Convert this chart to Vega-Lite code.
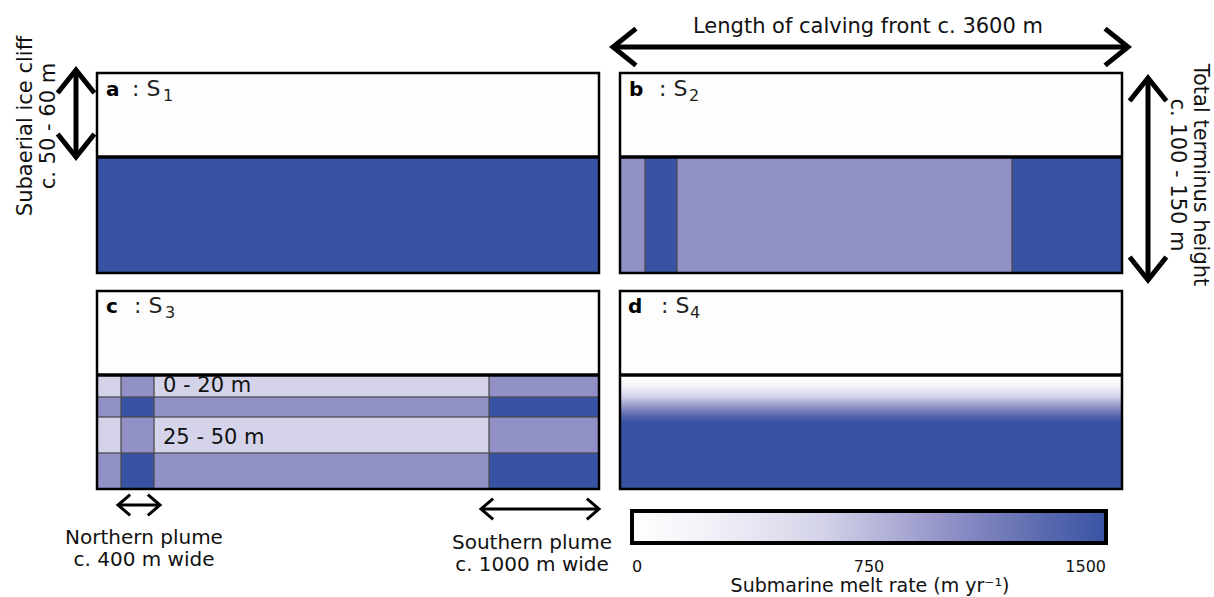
{
  "$schema": "https://vega.github.io/schema/vega-lite/v6.json",
  "width": 1214,
  "height": 597,
  "padding": 0,
  "autosize": {"type": "none"},
  "background": "white",
  "config": {"view": {"stroke": null}, "font": "DejaVu Sans", "text": {"font": "DejaVu Sans"}},
  "datasets": {
    "panels": [
      {"panel": "a", "x": 97, "x2": 599, "y": 73, "y2": 273, "waterline": 157},
      {"panel": "b", "x": 620, "x2": 1122, "y": 73, "y2": 273, "waterline": 157},
      {"panel": "c", "x": 97, "x2": 599, "y": 291, "y2": 489, "waterline": 375},
      {"panel": "d", "x": 620, "x2": 1122, "y": 291, "y2": 489, "waterline": 375}
    ],
    "melt": [
      {"panel": "a", "x": 97, "x2": 599, "y": 157, "y2": 273, "melt": 1500},
      {"panel": "b", "x": 620, "x2": 645, "y": 157, "y2": 273, "melt": 1000},
      {"panel": "b", "x": 645, "x2": 677, "y": 157, "y2": 273, "melt": 1500},
      {"panel": "b", "x": 677, "x2": 1012, "y": 157, "y2": 273, "melt": 1000},
      {"panel": "b", "x": 1012, "x2": 1122, "y": 157, "y2": 273, "melt": 1500},
      {"panel": "c", "x": 97, "x2": 121, "y": 375, "y2": 397, "melt": 600},
      {"panel": "c", "x": 121, "x2": 154, "y": 375, "y2": 397, "melt": 1000},
      {"panel": "c", "x": 154, "x2": 489, "y": 375, "y2": 397, "melt": 600},
      {"panel": "c", "x": 489, "x2": 599, "y": 375, "y2": 397, "melt": 1000},
      {"panel": "c", "x": 97, "x2": 121, "y": 397, "y2": 417, "melt": 1000},
      {"panel": "c", "x": 121, "x2": 154, "y": 397, "y2": 417, "melt": 1500},
      {"panel": "c", "x": 154, "x2": 489, "y": 397, "y2": 417, "melt": 1000},
      {"panel": "c", "x": 489, "x2": 599, "y": 397, "y2": 417, "melt": 1500},
      {"panel": "c", "x": 97, "x2": 121, "y": 417, "y2": 453, "melt": 600},
      {"panel": "c", "x": 121, "x2": 154, "y": 417, "y2": 453, "melt": 1000},
      {"panel": "c", "x": 154, "x2": 489, "y": 417, "y2": 453, "melt": 600},
      {"panel": "c", "x": 489, "x2": 599, "y": 417, "y2": 453, "melt": 1000},
      {"panel": "c", "x": 97, "x2": 121, "y": 453, "y2": 489, "melt": 1000},
      {"panel": "c", "x": 121, "x2": 154, "y": 453, "y2": 489, "melt": 1500},
      {"panel": "c", "x": 154, "x2": 489, "y": 453, "y2": 489, "melt": 1000},
      {"panel": "c", "x": 489, "x2": 599, "y": 453, "y2": 489, "melt": 1500},
      {"panel": "d", "x": 620, "x2": 1122, "y": 375, "y2": 377, "melt": 15},
      {"panel": "d", "x": 620, "x2": 1122, "y": 377, "y2": 379, "melt": 40},
      {"panel": "d", "x": 620, "x2": 1122, "y": 379, "y2": 381, "melt": 75},
      {"panel": "d", "x": 620, "x2": 1122, "y": 381, "y2": 383, "melt": 115},
      {"panel": "d", "x": 620, "x2": 1122, "y": 383, "y2": 385, "melt": 165},
      {"panel": "d", "x": 620, "x2": 1122, "y": 385, "y2": 387, "melt": 220},
      {"panel": "d", "x": 620, "x2": 1122, "y": 387, "y2": 389, "melt": 285},
      {"panel": "d", "x": 620, "x2": 1122, "y": 389, "y2": 391, "melt": 355},
      {"panel": "d", "x": 620, "x2": 1122, "y": 391, "y2": 393, "melt": 430},
      {"panel": "d", "x": 620, "x2": 1122, "y": 393, "y2": 395, "melt": 510},
      {"panel": "d", "x": 620, "x2": 1122, "y": 395, "y2": 397, "melt": 585},
      {"panel": "d", "x": 620, "x2": 1122, "y": 397, "y2": 399, "melt": 660},
      {"panel": "d", "x": 620, "x2": 1122, "y": 399, "y2": 401, "melt": 735},
      {"panel": "d", "x": 620, "x2": 1122, "y": 401, "y2": 403, "melt": 810},
      {"panel": "d", "x": 620, "x2": 1122, "y": 403, "y2": 405, "melt": 885},
      {"panel": "d", "x": 620, "x2": 1122, "y": 405, "y2": 407, "melt": 960},
      {"panel": "d", "x": 620, "x2": 1122, "y": 407, "y2": 409, "melt": 1040},
      {"panel": "d", "x": 620, "x2": 1122, "y": 409, "y2": 411, "melt": 1115},
      {"panel": "d", "x": 620, "x2": 1122, "y": 411, "y2": 413, "melt": 1190},
      {"panel": "d", "x": 620, "x2": 1122, "y": 413, "y2": 415, "melt": 1260},
      {"panel": "d", "x": 620, "x2": 1122, "y": 415, "y2": 417, "melt": 1330},
      {"panel": "d", "x": 620, "x2": 1122, "y": 417, "y2": 419, "melt": 1390},
      {"panel": "d", "x": 620, "x2": 1122, "y": 419, "y2": 421, "melt": 1440},
      {"panel": "d", "x": 620, "x2": 1122, "y": 421, "y2": 423, "melt": 1480},
      {"panel": "d", "x": 620, "x2": 1122, "y": 423, "y2": 489, "melt": 1500}
    ],
    "arrows": [
      {"kind": "dimension", "x": 613, "x2": 1128, "y": 47, "y2": 47},
      {"kind": "dimension", "x": 76, "x2": 76, "y": 70, "y2": 157},
      {"kind": "dimension", "x": 1148, "x2": 1148, "y": 78, "y2": 280},
      {"kind": "plume", "x": 118, "x2": 160, "y": 505, "y2": 505},
      {"kind": "plume", "x": 481, "x2": 599, "y": 509, "y2": 509}
    ],
    "heads": [
      {"kind": "dimension", "x": 613, "y": 47, "dir": "left"},
      {"kind": "dimension", "x": 1128, "y": 47, "dir": "right"},
      {"kind": "dimension", "x": 76, "y": 70, "dir": "up"},
      {"kind": "dimension", "x": 76, "y": 157, "dir": "down"},
      {"kind": "dimension", "x": 1148, "y": 78, "dir": "up"},
      {"kind": "dimension", "x": 1148, "y": 280, "dir": "down"},
      {"kind": "plume", "x": 118, "y": 505, "dir": "left"},
      {"kind": "plume", "x": 160, "y": 505, "dir": "right"},
      {"kind": "plume", "x": 481, "y": 509, "dir": "left"},
      {"kind": "plume", "x": 599, "y": 509, "dir": "right"}
    ],
    "notes": [
      {"role": "front", "text": "Length of calving front c. 3600 m", "x": 868, "y": 33},
      {"role": "plume", "text": "Northern plume", "x": 144, "y": 544},
      {"role": "plume", "text": "c. 400 m wide", "x": 144, "y": 566},
      {"role": "plume", "text": "Southern plume", "x": 532, "y": 549},
      {"role": "plume", "text": "c. 1000 m wide", "x": 532, "y": 571},
      {"role": "depth", "text": "0 - 20 m", "x": 163, "y": 392},
      {"role": "depth", "text": "25 - 50 m", "x": 163, "y": 444},
      {"role": "cliff", "text": "Subaerial ice cliff", "x": 32, "y": 126},
      {"role": "cliff", "text": "c. 50 - 60 m", "x": 55, "y": 126},
      {"role": "terminus", "text": "Total terminus height", "x": 1194, "y": 175},
      {"role": "terminus", "text": "c. 100 - 150 m", "x": 1171, "y": 175}
    ],
    "labels": [
      {"panel": "a", "letter": "a", "name": ": S", "sub": "1", "xl": 106, "xn": 132, "xs": 163, "y": 96, "ys": 101},
      {"panel": "b", "letter": "b", "name": ": S", "sub": "2", "xl": 629, "xn": 659, "xs": 689, "y": 96, "ys": 101},
      {"panel": "c", "letter": "c", "name": ": S", "sub": "3", "xl": 106, "xn": 134, "xs": 165, "y": 313, "ys": 318},
      {"panel": "d", "letter": "d", "name": ": S", "sub": "4", "xl": 628, "xn": 661, "xs": 690, "y": 313, "ys": 318}
    ]
  },
  "encoding": {
    "x": {"field": "x", "type": "quantitative", "scale": {"domain": [0, 1214], "nice": false, "zero": false}, "axis": null},
    "y": {"field": "y", "type": "quantitative", "scale": {"domain": [0, 597], "nice": false, "zero": false, "reverse": true}, "axis": null}
  },
  "layer": [
    {
      "data": {"name": "panels"},
      "mark": {"type": "rect", "fill": "#fdfdfd", "strokeWidth": 0},
      "encoding": {"x2": {"field": "x2"}, "y2": {"field": "y2"}}
    },
    {
      "data": {"name": "melt"},
      "mark": {"type": "rect", "strokeWidth": 0},
      "encoding": {
        "x2": {"field": "x2"},
        "y2": {"field": "y2"},
        "color": {
          "field": "melt",
          "type": "quantitative",
          "scale": {
            "domain": [0, 250, 600, 1000, 1250, 1500],
            "range": ["#ffffff", "#f1f1f8", "#d4d3e9", "#9191c7", "#6470b2", "#3953a4"],
            "interpolate": "rgb"
          },
          "legend": {
            "orient": "none",
            "direction": "horizontal",
            "legendX": 632,
            "legendY": 511,
            "padding": 0,
            "gradientLength": 474,
            "gradientThickness": 32,
            "gradientStrokeColor": "black",
            "gradientStrokeWidth": 4,
            "values": [0, 750, 1500],
            "format": "d",
            "labelFontSize": 16,
            "labelOffset": 16,
            "labelColor": "#111111",
            "labelFont": "DejaVu Sans",
            "labelOverlap": false,
            "labelLimit": 200,
            "title": "Submarine melt rate (m yr⁻¹)",
            "titleOrient": "bottom",
            "titleAnchor": "middle",
            "titleFont": "DejaVu Sans",
            "titleFontSize": 19,
            "titleFontWeight": "normal",
            "titleColor": "#111111",
            "titleLimit": 600,
            "titlePadding": 2
          }
        }
      }
    },
    {
      "data": {"name": "melt"},
      "transform": [{"filter": "datum.panel != 'd'"}],
      "mark": {"type": "rect", "fillOpacity": 0, "stroke": "#4d4d4d", "strokeWidth": 0.8},
      "encoding": {"x2": {"field": "x2"}, "y2": {"field": "y2"}}
    },
    {
      "data": {"name": "panels"},
      "mark": {"type": "rect", "fillOpacity": 0, "stroke": "black", "strokeWidth": 2.5},
      "encoding": {"x2": {"field": "x2"}, "y2": {"field": "y2"}}
    },
    {
      "data": {"name": "panels"},
      "mark": {"type": "rule", "stroke": "black", "strokeWidth": 3.5},
      "encoding": {"x2": {"field": "x2"}, "y": {"field": "waterline", "type": "quantitative"}}
    },
    {
      "data": {"name": "arrows"},
      "transform": [{"filter": "datum.kind == 'dimension'"}],
      "mark": {"type": "rule", "stroke": "black", "strokeWidth": 5},
      "encoding": {"x2": {"field": "x2"}, "y2": {"field": "y2"}}
    },
    {
      "data": {"name": "arrows"},
      "transform": [{"filter": "datum.kind == 'plume'"}],
      "mark": {"type": "rule", "stroke": "black", "strokeWidth": 3},
      "encoding": {"x2": {"field": "x2"}, "y2": {"field": "y2"}}
    },
    {
      "data": {"name": "heads"},
      "transform": [{"filter": "datum.kind == 'dimension'"}],
      "mark": {"type": "point", "shape": "M -0.8 1 L 0 0 L 0.8 1", "size": 1764, "filled": false, "stroke": "black", "strokeWidth": 5, "opacity": 1, "strokeJoin": "miter", "strokeCap": "square"},
      "encoding": {
        "angle": {"field": "dir", "type": "nominal", "scale": {"type": "ordinal", "domain": ["up", "right", "down", "left"], "range": [0, 90, 180, 270]}, "legend": null}
      }
    },
    {
      "data": {"name": "heads"},
      "transform": [{"filter": "datum.kind == 'plume'"}],
      "mark": {"type": "point", "shape": "M -0.85 1 L 0 0 L 0.85 1", "size": 484, "filled": false, "stroke": "black", "strokeWidth": 3, "opacity": 1, "strokeJoin": "miter", "strokeCap": "square"},
      "encoding": {
        "angle": {"field": "dir", "type": "nominal", "scale": {"type": "ordinal", "domain": ["up", "right", "down", "left"], "range": [0, 90, 180, 270]}, "legend": null}
      }
    },
    {
      "data": {"name": "notes"},
      "transform": [{"filter": "datum.role == 'front'"}],
      "mark": {"type": "text", "align": "center", "baseline": "alphabetic", "fontSize": 21, "color": "#111111"},
      "encoding": {"text": {"field": "text"}}
    },
    {
      "data": {"name": "notes"},
      "transform": [{"filter": "datum.role == 'plume'"}],
      "mark": {"type": "text", "align": "center", "baseline": "alphabetic", "fontSize": 20, "color": "#111111"},
      "encoding": {"text": {"field": "text"}}
    },
    {
      "data": {"name": "notes"},
      "transform": [{"filter": "datum.role == 'depth'"}],
      "mark": {"type": "text", "align": "left", "baseline": "alphabetic", "fontSize": 21, "color": "#111111"},
      "encoding": {"text": {"field": "text"}}
    },
    {
      "data": {"name": "notes"},
      "transform": [{"filter": "datum.role == 'cliff'"}],
      "mark": {"type": "text", "align": "center", "baseline": "alphabetic", "fontSize": 21, "angle": 270, "color": "#111111"},
      "encoding": {"text": {"field": "text"}}
    },
    {
      "data": {"name": "notes"},
      "transform": [{"filter": "datum.role == 'terminus'"}],
      "mark": {"type": "text", "align": "center", "baseline": "alphabetic", "fontSize": 21, "angle": 90, "color": "#111111"},
      "encoding": {"text": {"field": "text"}}
    },
    {
      "data": {"name": "labels"},
      "mark": {"type": "text", "align": "left", "baseline": "alphabetic", "fontSize": 20, "fontWeight": "bold", "color": "black"},
      "encoding": {"x": {"field": "xl", "type": "quantitative"}, "text": {"field": "letter"}}
    },
    {
      "data": {"name": "labels"},
      "mark": {"type": "text", "align": "left", "baseline": "alphabetic", "fontSize": 22, "color": "#231f20"},
      "encoding": {"x": {"field": "xn", "type": "quantitative"}, "text": {"field": "name"}}
    },
    {
      "data": {"name": "labels"},
      "mark": {"type": "text", "align": "left", "baseline": "alphabetic", "fontSize": 16, "color": "#231f20"},
      "encoding": {"x": {"field": "xs", "type": "quantitative"}, "y": {"field": "ys", "type": "quantitative"}, "text": {"field": "sub"}}
    }
  ]
}
